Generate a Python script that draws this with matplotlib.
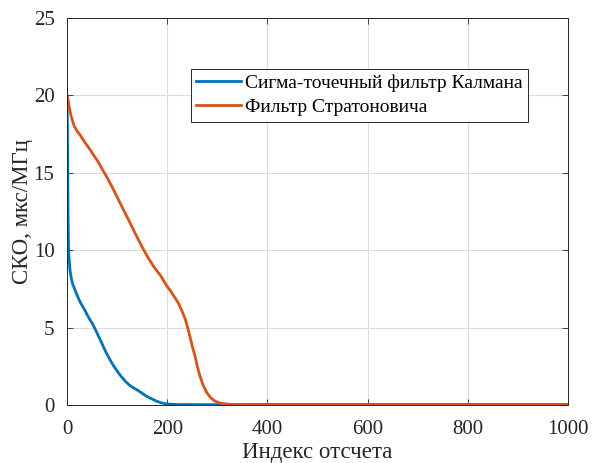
import matplotlib
matplotlib.use('Agg')
import matplotlib.pyplot as plt

plt.rcParams['font.family'] = ['Liberation Serif', 'DejaVu Serif']

# данные
ukf_x = [0, 1, 2, 3, 4, 6, 9, 12, 16, 20, 24, 28, 32.5, 36, 40.5, 45, 50, 57, 62, 68, 74, 80, 87, 94,
         100, 108, 117, 125, 132, 140, 148, 157, 167, 177, 187, 200, 220, 300, 1000]
ukf_y = [20, 17, 12.5, 10.2, 9.5, 8.7, 8.1, 7.75, 7.43, 7.1, 6.8, 6.55, 6.3, 6.1, 5.81, 5.55, 5.3, 4.85,
         4.5, 4.1, 3.66, 3.27, 2.85, 2.48, 2.2, 1.85, 1.51, 1.27, 1.12, 0.97, 0.8, 0.6, 0.43, 0.27, 0.15,
         0.06, 0.03, 0.02, 0.02]

strat_x = [0, 1, 2, 4, 6, 8, 10.6, 14, 19, 26, 36, 46, 55, 62.5, 70, 79, 89, 99, 109, 119, 129, 139, 150,
           162, 174, 186, 199, 206, 214, 222, 229, 235.5, 240, 245.5, 250, 255.5, 260, 265.5, 272, 279,
           286, 293, 300, 310, 325, 340, 1000]
strat_y = [20, 19.9, 19.7, 19.3, 19.0, 18.7, 18.4, 18.05, 17.75, 17.45, 16.95, 16.5, 16.05, 15.7, 15.25,
           14.75, 14.15, 13.5, 12.85, 12.2, 11.55, 10.9, 10.2, 9.5, 8.9, 8.4, 7.7, 7.4, 7.0, 6.6, 6.1, 5.6,
           5.1, 4.4, 3.8, 3.15, 2.5, 1.85, 1.25, 0.8, 0.5, 0.3, 0.18, 0.09, 0.04, 0.03, 0.03]

labels = ['Сигма-точечный фильтр Калмана', 'Фильтр Стратоновича']

fig = plt.figure(figsize=(5.92, 4.63), dpi=100)
ax = fig.add_axes([0.1132, 0.1253, 0.8463, 0.8358])

ax.plot(ukf_x, ukf_y, color='#0072BD', lw=2.0, label=labels[0], solid_joinstyle='round')
ax.plot(strat_x, strat_y, color='#D95319', lw=2.0, label=labels[1], solid_joinstyle='round')

ax.set_xlim(0, 1000)
ax.set_ylim(0, 25)
ax.set_xticks([0, 200, 400, 600, 800, 1000])
ax.set_yticks([0, 5, 10, 15, 20, 25])
ax.grid(True, color='#dcdcdc', lw=0.8)
ax.tick_params(direction='in', top=True, right=True, labelsize=15, length=4, width=0.6,
               colors='#262626')
ax.tick_params(axis='x', pad=11)
ax.tick_params(axis='y', pad=9)
for s in ax.spines.values():
    s.set_linewidth(0.7)
    s.set_color('#262626')

ax.set_xlabel('Индекс отсчета', fontsize=16.5, color='#262626', labelpad=2)
ax.set_ylabel('СКО, мкс/МГц', fontsize=16.5, color='#262626', labelpad=0.5)

leg = ax.legend(loc='upper left', bbox_to_anchor=(0.2475, 0.868), borderaxespad=0,
                fontsize=14, fancybox=False, edgecolor='#262626', framealpha=1,
                handlelength=2.3, handletextpad=0.2, borderpad=0.28, labelspacing=0.33)
leg.get_frame().set_linewidth(0.7)

fig.savefig('out.png', dpi=100)
